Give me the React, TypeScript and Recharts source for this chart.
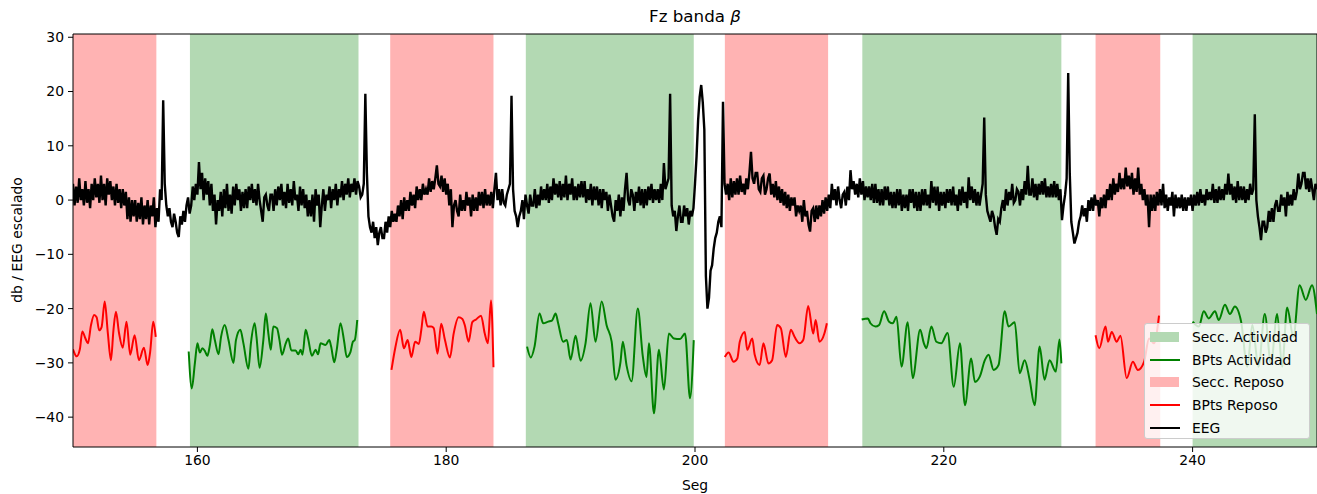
import {
    LineChart,
    Line,
    XAxis,
    YAxis,
    ReferenceArea,
    ReferenceLine,
} from "recharts";

// EEG escalado, muestreado cada 0.125 s desde 150 s (una fila = 1 s)
const EEG_START = 150;
const EEG_STEP = 0.125;
const eegValues = [
    3, -1, 2.5, -0.5, 4, 0, 2, -1,
    3.5, -0.5, 2, -1.5, 3, 0, 4, 0.5,
    3, -0.5, 4.5, 0, 3, -1, 4, 1,
    3.5, 0, 2.5, -1, 3, -0.5, 2, -1.5,
    2, -1, 1.5, -3.5, 0.5, -4, 0, -3,
    0, -4, -0.5, -3.5, 0.5, -4.5, -1, -3.5,
    0, -4.5, -1, -3, 0.5, -5, -1.5, -4,
    2, 0, 18.4, 3, -1, -3, -1.5, -4,
    -5, -2.5, -4, -6, -6.8, -3, -4.5, -2,
    -4, -1, 0.5, -2.5, -1, 2.5, 0, 3,
    1, 7, 2, 5, 0, 4, 1, 3.5,
    -1, 3, -2, 1, -4.5, 0, -2, 1.5,
    -3, 2, -1.5, 3, -2, 1, -2.5, 2.5,
    -1, 3, 0, 2, -2, 1.5, -1.5, 2,
    -1.5, 2.5, 0, 3, -0.5, 2, -1, 3,
    0, -2, -4, 0.5, 1, -1, -2, 1,
    1, -2, 2, -1, 2.5, 0, 3, -1,
    1.5, -1.5, 3, -0.5, 2, -1, 3.5, 0,
    1, -2, 2.5, -1, 2, -1.5, 1, -3,
    0, -3, 1, -4, 2, -1, 1, -5,
    -1, 2, -2, 1, 0, 2.5, -1.5, 2,
    0, 3, -1, 2, 0.5, 3.5, 0, 3,
    1, 4, 0.5, 3, 1.5, 4, 1, 3.5,
    2.5, 0.5, 1, 3, 19.6, 5, -3, -5,
    -6, -4, -7, -5, -8.3, -6, -5, -7,
    -7, -4, -6, -3, -5, -2, -4, -2.5,
    -4, -1, -3, 0, -3.5, 0.5, -2, 0,
    -2, 1.5, -1, 1, -1.5, 2.5, 0, 2,
    0, 3, 1, 2, 1, 4, 1.5, 3.5,
    2, 4, 6.4, 3, 2.5, 4.5, 1.5, 4,
    1, 3, -1, 2, -5, -1, 0, -2,
    -3, 1, -2, 0, -2, 1.5, -1, 0.5,
    -3, 1, -2, 0.5, -2, 1.5, -1, 1.5,
    -1.5, 2, -1, 1, -1, 1.5, -1.5, 2,
    5, 0, 2, -1, 2, -0.5, -1, 1,
    2, 3, 19.2, 2, -2, -3, -5, -3,
    -2, 0, -3.5, 1, -1, -2.5, 1, -1,
    -1, 2, -1.5, 1, -1, 2.5, 0, 2,
    0, 3, -0.5, 2.5, 0, 4, 1, 3,
    0.5, 3.5, 0, 3, 0.5, 4.5, 0, 3,
    1, 4, 0, 2.5, 0, 3, 0.5, 3.5,
    0.5, 3.5, -0.5, 2, 0, 3, -1, 2.5,
    0, 2.5, -1, 2, -1.5, 2, 0, 1.5,
    -2, 1, -1, -3, -4, 0, -2, 1,
    -3, 0.5, -2, 2, 5, 0, -1, 2,
    1, -2, 1.5, -0.5, 2.5, -1, 2, -1.5,
    2, -1, 2.5, 0, 3, -0.5, 2, 0,
    2, -0.5, 3, 0, 6.8, 2, 3, 4,
    19.6, -1, -3, -2, -5.7, -3, -1, -4,
    -4, -1, -3, -1.5, -4.5, -2, -3, -1.5,
    3, 8, 14.7, 19, 21.2, 18, 13, -14,
    -20, -18, -13, -12, -9, -7, -6, -4,
    -3, -5, 18.1, 3, 1, 3, 0, 4,
    0.5, 3.5, 1, 4, 1, 4.5, 1.5, 3,
    1, 4, 2, 5, 8.9, 4, 3, 5,
    5, 2, 1.5, 4, 4.5, 1, 2, 4,
    4.9, 1, 3, 0.5, 3.5, 0, 2.5, -0.5,
    2, -1, 1.5, -1.5, 1, -2, 0.5, -1,
    0.5, -3, -1, -2, -1, -4, 0, -3,
    -2, -4.5, -5.8, -2, -1.5, -4, -1, -3.5,
    -1, -3, 0, -2.5, 0.5, -2, 1, -1.5,
    3, 0, 2, -1, 2.5, 0, -1.5, 1,
    1.5, -1, 2.5, 0, 5.5, 2, 3.5, 1,
    3, 0.5, 4, 1, 3.5, 0, 2.5, 0.5,
    2.5, 0, 3, -0.5, 3, -0.5, 2, -1,
    2, -1, 2.5, 0, 2.5, -1, 1.5, -1.5,
    1.5, -1.5, 2, -1, 2, -2, 1, -1.5,
    1, -2, 2, -0.5, 2, -1.5, 1.5, -2,
    1.5, -2, 2, -1, 2, -1, 1, -1.5,
    3.5, -0.5, 2.5, -1, 2.5, -2, 1.5, -1,
    1.5, -1.5, 2, -0.5, 2, -1, 2.5, -1,
    1, -2, 2, -1, 2.5, -0.5, 1.5, -1.5,
    4.2, 0, 2.5, -0.5, 2, -1, 1.5, -1,
    1, 3, 15.2, 1, -2, -3, -4, -2,
    -3, -5, -6.4, -3.5, -4, -1.5, 0, -2,
    2, -1, 1.5, 0, 3, -0.5, 0, 2,
    1.5, -1, 2, 0, 3.5, 1, 6.3, 1,
    1, 4, 0.5, 3, 0, 3, 1, 3.5,
    1, 4, 0.5, 2.5, 0.5, 3, 0.5, 3.5,
    0.5, 3, 0, 2, -3.7, -1, 1, 4,
    23.4, 5, -4, -6, -8, -7, -6, -4,
    -3, -1, -3, -1.5, -4, 0, -2, 0.5,
    -2, 1, -1, 0, -3, 0.5, -1.5, 1,
    -1.5, 2, 0, 3, 0, 4, 1, 3,
    1.5, 5, 2, 4, 2, 6, 2.5, 4.5,
    2, 5, 1, 4, 1.5, 6, 1, 3,
    0, 2, -1, 1, -5, 1, -2, 1,
    -2, 1.5, -1, 2, -1, 3, -1.5, 1,
    -2, 0.5, -1, 1.5, -3, 1, -1.5, 0.5,
    -1.5, 1, -2, 0.5, -2, 0.5, -1, 1,
    -2, 1, -1, 1.5, -1, 2, -0.5, 1,
    -1, 2, 0, 1.5, 0, 3, -0.5, 2,
    -0.5, 2.5, 0, 2, 0, 3, 1, 4.9,
    1, 3, 0, 2.5, -0.5, 3.5, 0, 2.5,
    0, 2.5, -0.5, 2, 0, 3, 1, 2,
    15.8, 0, -3, -5, -7.4, -4, -4, -6,
    -5, -2, -4, -1.5, -4, -1, 0, -2,
    -2, 1, -1, 0.5, -3, 1.5, -1, 1,
    -1, 2, 0, 1.5, 4.9, 2, 3, 5,
    5, 2, 4, 1.5, 4, 2, 0, 3,
    2,
];

// secciones [inicio, fin] en segundos
const reposoSections = [[150, 156.7], [175.5, 183.8], [202.4, 210.7], [232.2, 237.4]];
const actividadSections = [[159.4, 172.95], [186.4, 199.9], [213.45, 229.45], [240, 250]];

// potencia de banda por seccion: [seg, db]
const reposo1 = [
    [150.0, -27.5], [150.3, -28.8], [150.55, -27.5], [150.75, -24.2], [151.0, -25.5], [151.2, -26.4],
    [151.45, -23], [151.7, -21.2], [151.9, -21.6], [152.1, -24], [152.3, -23.4], [152.55, -18.7],
    [152.8, -24.5], [153.05, -29.5], [153.25, -24], [153.45, -20.6], [153.7, -24.5], [154.0, -27.2],
    [154.3, -22.4], [154.6, -28.5], [154.95, -24.9], [155.3, -29.5], [155.7, -27.2], [156.0, -30.4],
    [156.2, -28], [156.45, -22.4], [156.65, -25.2],
];
const reposo2 = [
    [175.6, -31.3], [175.9, -27.3], [176.3, -23.9], [176.6, -27.3], [176.9, -25.8], [177.2, -28.9],
    [177.5, -26.1], [177.8, -26.5], [178.0, -23.9], [178.2, -20.6], [178.5, -23.3], [178.8, -23.3],
    [179.0, -23.6], [179.3, -28.3], [179.6, -22.8], [179.9, -25.8], [180.3, -29.0], [180.6, -24.6],
    [181.0, -21.6], [181.3, -21.9], [181.5, -23.1], [181.8, -26.1], [182.1, -22.5], [182.4, -22],
    [182.8, -21.3], [183.1, -24.6], [183.35, -26.4], [183.6, -18.5], [183.8, -30.8],
];
const reposo3 = [
    [202.4, -28.9], [202.7, -28.1], [203.1, -29.8], [203.4, -29.2], [203.6, -26.1], [204.0, -24.3],
    [204.2, -27.6], [204.6, -25.5], [204.8, -28.5], [205.2, -30.4], [205.5, -26.4], [205.9, -30.1],
    [206.2, -29.5], [206.6, -23.0], [206.9, -23.6], [207.3, -28.9], [207.7, -23.9], [208.0, -25.2],
    [208.4, -26.4], [208.7, -25.8], [209.1, -19.5], [209.5, -24.6], [209.7, -22.1], [210.0, -26.1],
    [210.4, -24.6], [210.6, -22.7],
];
const reposo4 = [
    [232.2, -24.9], [232.5, -27.3], [233.0, -23.3], [233.2, -26.1], [233.5, -24.3], [233.9, -26.1],
    [234.2, -25], [234.7, -32.8], [235.2, -29.8], [235.6, -31.3], [236.1, -29.8], [236.5, -25.5],
    [236.9, -26.4], [237.3, -21.3],
];

const actividad1 = [
    [159.3, -27.9], [159.55, -34.7], [159.8, -30], [160.0, -26.4], [160.2, -28.1], [160.4, -27.3],
    [160.6, -27.8], [160.8, -28.7], [161.0, -26.8], [161.2, -23.8], [161.4, -25.8], [161.7, -28.4],
    [161.9, -25.2], [162.2, -23], [162.5, -25.8], [162.9, -30], [163.1, -25.8], [163.45, -23.9],
    [163.7, -26.4], [164.1, -31.1], [164.3, -26.4], [164.6, -22.7], [164.75, -25.2], [165.0, -30.9],
    [165.3, -25.8], [165.5, -20.9], [165.7, -24.5], [165.9, -27.6], [166.1, -23.3], [166.4, -23.6],
    [166.6, -25.8], [166.8, -28.5], [167.1, -26.4], [167.3, -25.5], [167.55, -27.7], [167.9, -27.7],
    [168.1, -28.4], [168.3, -27.6], [168.45, -28.5], [168.7, -23.9], [168.9, -25.5], [169.2, -28.7],
    [169.5, -27.6], [169.7, -28.4], [169.9, -26.4], [170.3, -26.7], [170.6, -25.8], [170.75, -27],
    [171.0, -29.9], [171.2, -27.6], [171.5, -22.7], [171.8, -26.1], [172.0, -28.9], [172.3, -28],
    [172.5, -26.1], [172.65, -25.8], [172.85, -22.1],
];
const actividad2 = [
    [186.5, -27.0], [186.8, -29.0], [187.1, -27.0], [187.5, -20.9], [187.8, -22.7], [188.2, -22.4],
    [188.5, -22.2], [188.8, -20.9], [189.0, -22.7], [189.4, -26.1], [189.7, -25.8], [190.0, -29.4],
    [190.4, -25.0], [190.8, -29.6], [191.2, -26.4], [191.6, -19.0], [192.0, -26.1], [192.5, -18.7],
    [192.9, -23.1], [193.3, -26.1], [193.6, -33.1], [194.0, -30.0], [194.2, -26.1], [194.5, -30.5],
    [194.9, -33.4], [195.4, -20], [195.8, -28.7], [196.1, -32.6], [196.3, -26.4], [196.7, -39.3],
    [197.1, -27.6], [197.5, -34.9], [197.9, -24.6], [198.3, -25.5], [198.8, -25.6], [199.2, -24.6],
    [199.6, -36.5], [199.9, -25.8],
];
const actividad3 = [
    [213.4, -22.0], [213.9, -21.8], [214.1, -22.7], [214.5, -23.3], [214.8, -23.0], [215.2, -20.5],
    [215.6, -22.4], [215.9, -22.7], [216.2, -21.5], [216.6, -30.7], [217.1, -22.5], [217.5, -32.8],
    [218.1, -23.9], [218.4, -26.4], [218.6, -27.3], [219.0, -23.3], [219.4, -26.1], [219.8, -26.4],
    [220.3, -24.5], [220.8, -34.4], [221.3, -26.4], [221.7, -37.8], [222.2, -29.2], [222.5, -33.5],
    [222.9, -32.5], [223.3, -29.5], [223.6, -28.5], [224.0, -31.3], [224.4, -30.4], [224.9, -20.5],
    [225.2, -23.3], [225.7, -22.5], [226.1, -31.9], [226.5, -29.5], [226.9, -33.1], [227.3, -37.8],
    [227.7, -27.0], [228.1, -33.1], [228.5, -29.5], [229.0, -31.6], [229.3, -25.7], [229.45, -30.1],
];
const actividad4 = [
    [240.0, -22.4], [240.5, -23.3], [240.9, -20.5], [241.3, -21.8], [241.8, -20.5], [242.1, -22.1],
    [242.6, -19.3], [243.0, -21], [243.4, -19.6], [243.9, -22.4], [244.4, -30.7], [244.8, -23],
    [245.3, -30.7], [245.8, -21], [246.3, -30.1], [246.8, -21], [247.2, -30.7], [247.6, -19.8],
    [248.1, -25.2], [248.6, -15.7], [249.1, -18.4], [249.6, -15.7], [250.0, -21],
];

const xTicks = [160, 180, 200, 220, 240];
const yTicks = [-40, -30, -20, -10, 0, 10, 20, 30];

const GREEN_AREA = "#b3d9b3";
const RED_AREA = "#ffb3b3";
const FONT = "'DejaVu Sans', sans-serif";

// une segmentos con un hueco (null) entre ellos
const joinSegments = (segs: number[][][]) => {
    const out: { x: number; y: number | null }[] = [];
    segs.forEach((seg, i) => {
        if (i > 0) out.push({x: seg[0][0] - 0.01, y: null});
        seg.forEach(([x, y]) => out.push({x, y}));
    });
    return out;
};

const eegData = eegValues.map((v, i) => ({x: EEG_START + i * EEG_STEP, y: v}));
const reposoData = joinSegments([reposo1, reposo2, reposo3, reposo4]);
const actividadData = joinSegments([actividad1, actividad2, actividad3, actividad4]);

const legendItems = [
    {label: "Secc. Actividad", color: GREEN_AREA, patch: true},
    {label: "BPts Actividad", color: "#008000", patch: false},
    {label: "Secc. Reposo", color: RED_AREA, patch: true},
    {label: "BPts Reposo", color: "#ff0000", patch: false},
    {label: "EEG", color: "#000000", patch: false},
];

const tickStyle = {fontSize: 13.9, fill: "#000", fontFamily: FONT};

export default function App() {
    return (
        <div style={{position: "absolute", left: 0, top: 0, width: 1317, height: 494, fontFamily: FONT, background: "#fff"}}>
            <LineChart
                width={1317}
                height={494}
                margin={{top: 34, right: 0, bottom: 0, left: 0}}
            >
                {reposoSections.map(([a, b], i) => (
                    <ReferenceArea key={"r" + i} x1={a} x2={b} y1={-45.5} y2={30.6}
                                   fill={RED_AREA} fillOpacity={1} stroke="none" ifOverflow="hidden"/>
                ))}
                {actividadSections.map(([a, b], i) => (
                    <ReferenceArea key={"a" + i} x1={a} x2={b} y1={-45.5} y2={30.6}
                                   fill={GREEN_AREA} fillOpacity={1} stroke="none" ifOverflow="hidden"/>
                ))}
                <XAxis
                    dataKey="x"
                    type="number"
                    domain={[150, 250]}
                    ticks={xTicks}
                    allowDataOverflow
                    height={47}
                    tick={tickStyle}
                    tickSize={5}
                    tickMargin={3}
                    stroke="#000"
                />
                <YAxis
                    type="number"
                    domain={[-45.5, 30.6]}
                    ticks={yTicks}
                    allowDataOverflow
                    width={73}
                    tick={tickStyle}
                    tickSize={5}
                    tickMargin={4}
                    stroke="#000"
                    tickFormatter={(v: number) => (v < 0 ? "\u2212" + Math.abs(v) : String(v))}
                />
                <ReferenceLine y={30.6} stroke="#000" strokeWidth={1} ifOverflow="visible"/>
                <ReferenceLine x={250} stroke="#000" strokeWidth={1} ifOverflow="visible"/>
                <Line data={actividadData} dataKey="y" type="monotone" stroke="#008000" strokeWidth={2}
                      dot={false} activeDot={false} connectNulls={false} isAnimationActive={false}/>
                <Line data={reposoData} dataKey="y" type="monotone" stroke="#ff0000" strokeWidth={2}
                      dot={false} activeDot={false} connectNulls={false} isAnimationActive={false}/>
                <Line data={eegData} dataKey="y" type="linear" stroke="#000000" strokeWidth={2.4}
                      dot={false} activeDot={false} isAnimationActive={false}/>
            </LineChart>

            <div style={{position: "absolute", left: 0, width: 1390, top: 6, textAlign: "center", fontSize: 16.7, color: "#000"}}>
                Fz banda <span style={{fontStyle: "italic"}}>β</span>
            </div>
            <div style={{position: "absolute", left: 0, width: 1390, top: 477, textAlign: "center", fontSize: 13.9, color: "#000"}}>
                Seg
            </div>
            <div style={{
                position: "absolute", left: 17, top: 240, transform: "translate(-50%, -50%) rotate(-90deg)",
                whiteSpace: "nowrap", fontSize: 13.9, color: "#000",
            }}>
                db / EEG escalado
            </div>

            <div style={{
                position: "absolute", left: 1144, top: 323, width: 166, height: 116,
                background: "rgba(255,255,255,0.8)", border: "1px solid #cccccc", borderRadius: 3,
                boxSizing: "border-box", padding: "2px 0 0 5px",
            }}>
                {legendItems.map((it) => (
                    <div key={it.label} style={{display: "flex", alignItems: "center", height: 22.6, fontSize: 13.9}}>
                        <div style={{width: 30, marginRight: 12, display: "flex", alignItems: "center"}}>
                            {it.patch
                                ? <div style={{width: 29, height: 10, background: it.color}}/>
                                : <div style={{width: 30, height: 2, background: it.color}}/>}
                        </div>
                        <span style={{color: "#000", whiteSpace: "nowrap"}}>{it.label}</span>
                    </div>
                ))}
            </div>
        </div>
    );
}
